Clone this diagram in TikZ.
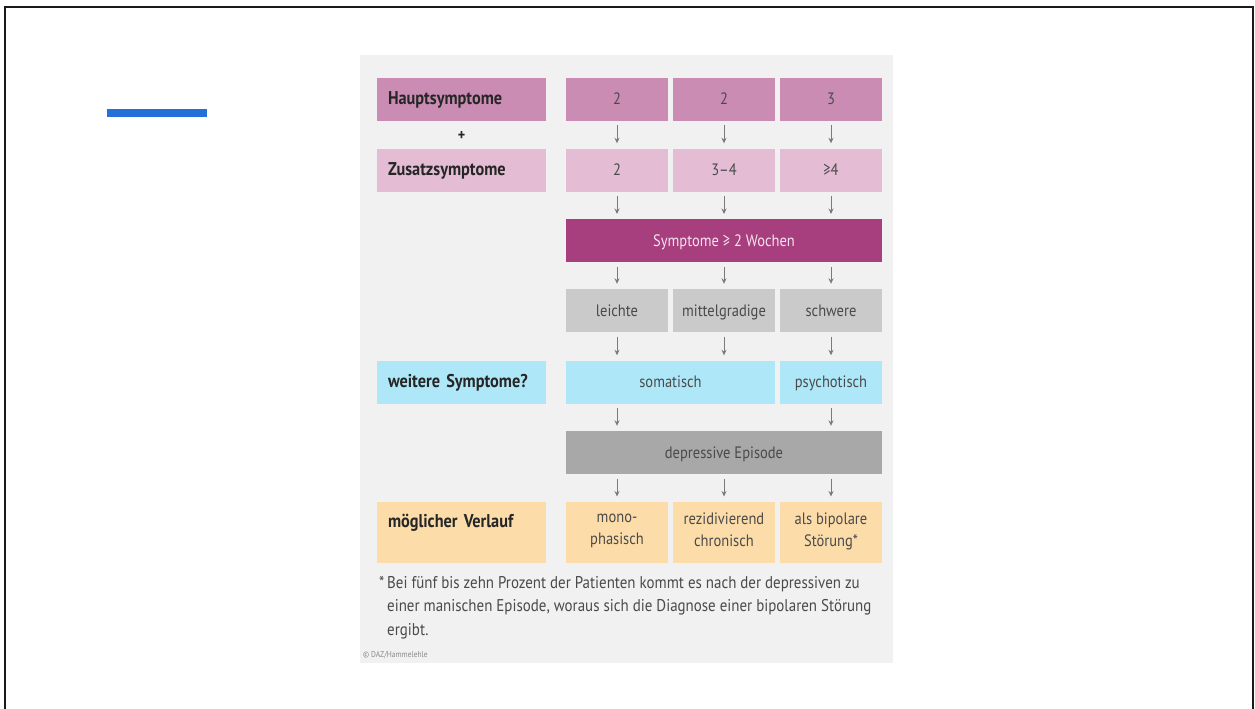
\documentclass[tikz,border=0pt]{standalone}
\usepackage{fontspec}
\setmainfont{PT Sans}[FakeStretch=0.88]
\usepackage{xcolor}
\usetikzlibrary{arrows.meta}

\definecolor{rahmen}{HTML}{1A1A1A}
\definecolor{blau}{HTML}{2270D8}
\definecolor{panel}{HTML}{F1F1F1}
\definecolor{haupt}{HTML}{CB8CB4}
\definecolor{zusatz}{HTML}{E4BDD5}
\definecolor{dauer}{HTML}{A73F7F}
\definecolor{grau1}{HTML}{CACACA}
\definecolor{grau2}{HTML}{A8A8A8}
\definecolor{cyan1}{HTML}{AEE7F8}
\definecolor{orange1}{HTML}{FCDCA9}
\definecolor{schrift}{HTML}{4A4A4A}
\definecolor{dunkel}{HTML}{262626}
\definecolor{hell}{HTML}{F6E2EE}
\definecolor{pfeilgrau}{HTML}{7A7A7A}
\definecolor{grau3}{HTML}{8A8A8A}

\newcommand{\stuetze}{\rule[-5.5pt]{0pt}{22pt}}

\begin{document}
\begin{tikzpicture}[x=1pt, y=-1pt, >={Stealth[length=5.5pt, width=5pt]},
    feld/.style={fill=#1, minimum height=43pt, inner sep=0pt, align=center,
        text=schrift, font=\fontsize{16.5}{22}\selectfont, execute at begin node=\stuetze},
    spalte/.style={feld=#1, minimum width=102pt},
    titel/.style={fill=#1, minimum height=43pt, text width=147pt, inner xsep=11pt,
        inner ysep=0pt, align=left, text=dunkel, font=\bfseries\fontsize{18.5}{22}\selectfont,
        execute at begin node=\stuetze},
    pfeil/.style={->, draw=pfeilgrau, line width=0.9pt, shorten <=4.5pt, shorten >=5pt}]
    \useasboundingbox (0,0) rectangle (1255,709);

    % 1. Rahmen, Balken, Hintergrund
    \draw[rahmen, line width=2pt] (5,709) -- (5,7) -- (1253,7) -- (1253,709);
    \fill[blau] (107,109) rectangle (207,117);
    \fill[panel] (360,55) rectangle (893,663);

    % 2. Hauptsymptome + Zusatzsymptome
    \node[titel=haupt] (hs) at (461.5,99.2) {Hauptsymptome};
    \node[spalte=haupt] (h1) at (617,99.2) {2};
    \node[spalte=haupt] (h2) at (724,99.2) {2};
    \node[spalte=haupt] (h3) at (831,99.2) {3};
    \node[text=dunkel, font=\bfseries\fontsize{16}{18}\selectfont] (plus) at (461.5,136) {+};
    \node[titel=zusatz] (zs) at (461.5,170) {Zusatzsymptome};
    \node[spalte=zusatz] (z1) at (617,170) {2};
    \node[spalte=zusatz] (z2) at (724,170) {3–4};
    \node[spalte=zusatz] (z3) at (831,170) {≥4};

    % 3. Dauer und Schweregrad
    \node[feld=dauer, minimum width=316pt, text=hell] (sym) at (724,240.7) {Symptome ≥ 2 Wochen};
    \node[spalte=grau1] (l1) at (617,310.5) {leichte};
    \node[spalte=grau1] (l2) at (724,310.5) {mittelgradige};
    \node[spalte=grau1] (l3) at (831,310.5) {schwere};

    % 4. weitere Symptome
    \node[titel=cyan1] (ws) at (461.5,382) {weitere Symptome?};
    \node[feld=cyan1, minimum width=209pt] (som) at (670.5,382) {somatisch};
    \node[spalte=cyan1] (psy) at (831,382) {psychotisch};
    \node[feld=grau2, minimum width=316pt] (dep) at (724,452.5) {depressive Episode};

    % 5. Verlauf
    \node[titel=orange1, minimum height=61.6pt] (mv) at (461.5,532.5) {möglicher Verlauf\\ \stuetze};
    \node[spalte=orange1, minimum height=61.6pt] (v1) at (617,532.5) {mono-\\phasisch\stuetze};
    \node[spalte=orange1, minimum height=61.6pt] (v2) at (724,532.5) {rezidivierend\\chronisch\stuetze};
    \node[spalte=orange1, minimum height=61.6pt] (v3) at (831,532.5) {als bipolare\\Störung*\stuetze};

    % 6. Pfeile
    \foreach \i in {1,2,3} {
        \draw[pfeil] (h\i) -- (z\i);
        \draw[pfeil] (z\i) -- (z\i |- sym.north);
        \draw[pfeil] (sym.south -| l\i) -- (l\i);
        \draw[pfeil] (dep.south -| v\i) -- (v\i);
    }
    \draw[pfeil] (l1) -- (l1 |- som.north);
    \draw[pfeil] (l2) -- (l2 |- som.north);
    \draw[pfeil] (l3) -- (psy);
    \draw[pfeil] (som.south -| l1) -- (l1 |- dep.north);
    \draw[pfeil] (psy) -- (psy |- dep.north);

    % 7. Fussnote
    \node[anchor=north west, inner sep=0pt, align=left, text=schrift,
        font=\fontsize{17}{23.5}\selectfont] (fn) at (387,576)
        {\llap{*\,}Bei fünf bis zehn Prozent der Patienten kommt es nach der depressiven zu\\
         einer manischen Episode, woraus sich die Diagnose einer bipolaren Störung\\
         ergibt.};
    \node[anchor=west, inner sep=0pt, text=grau3, font=\fontsize{8.5}{10}\selectfont] (quelle) at (363,655) {© DAZ/Hammelehle};
\end{tikzpicture}
\end{document}
